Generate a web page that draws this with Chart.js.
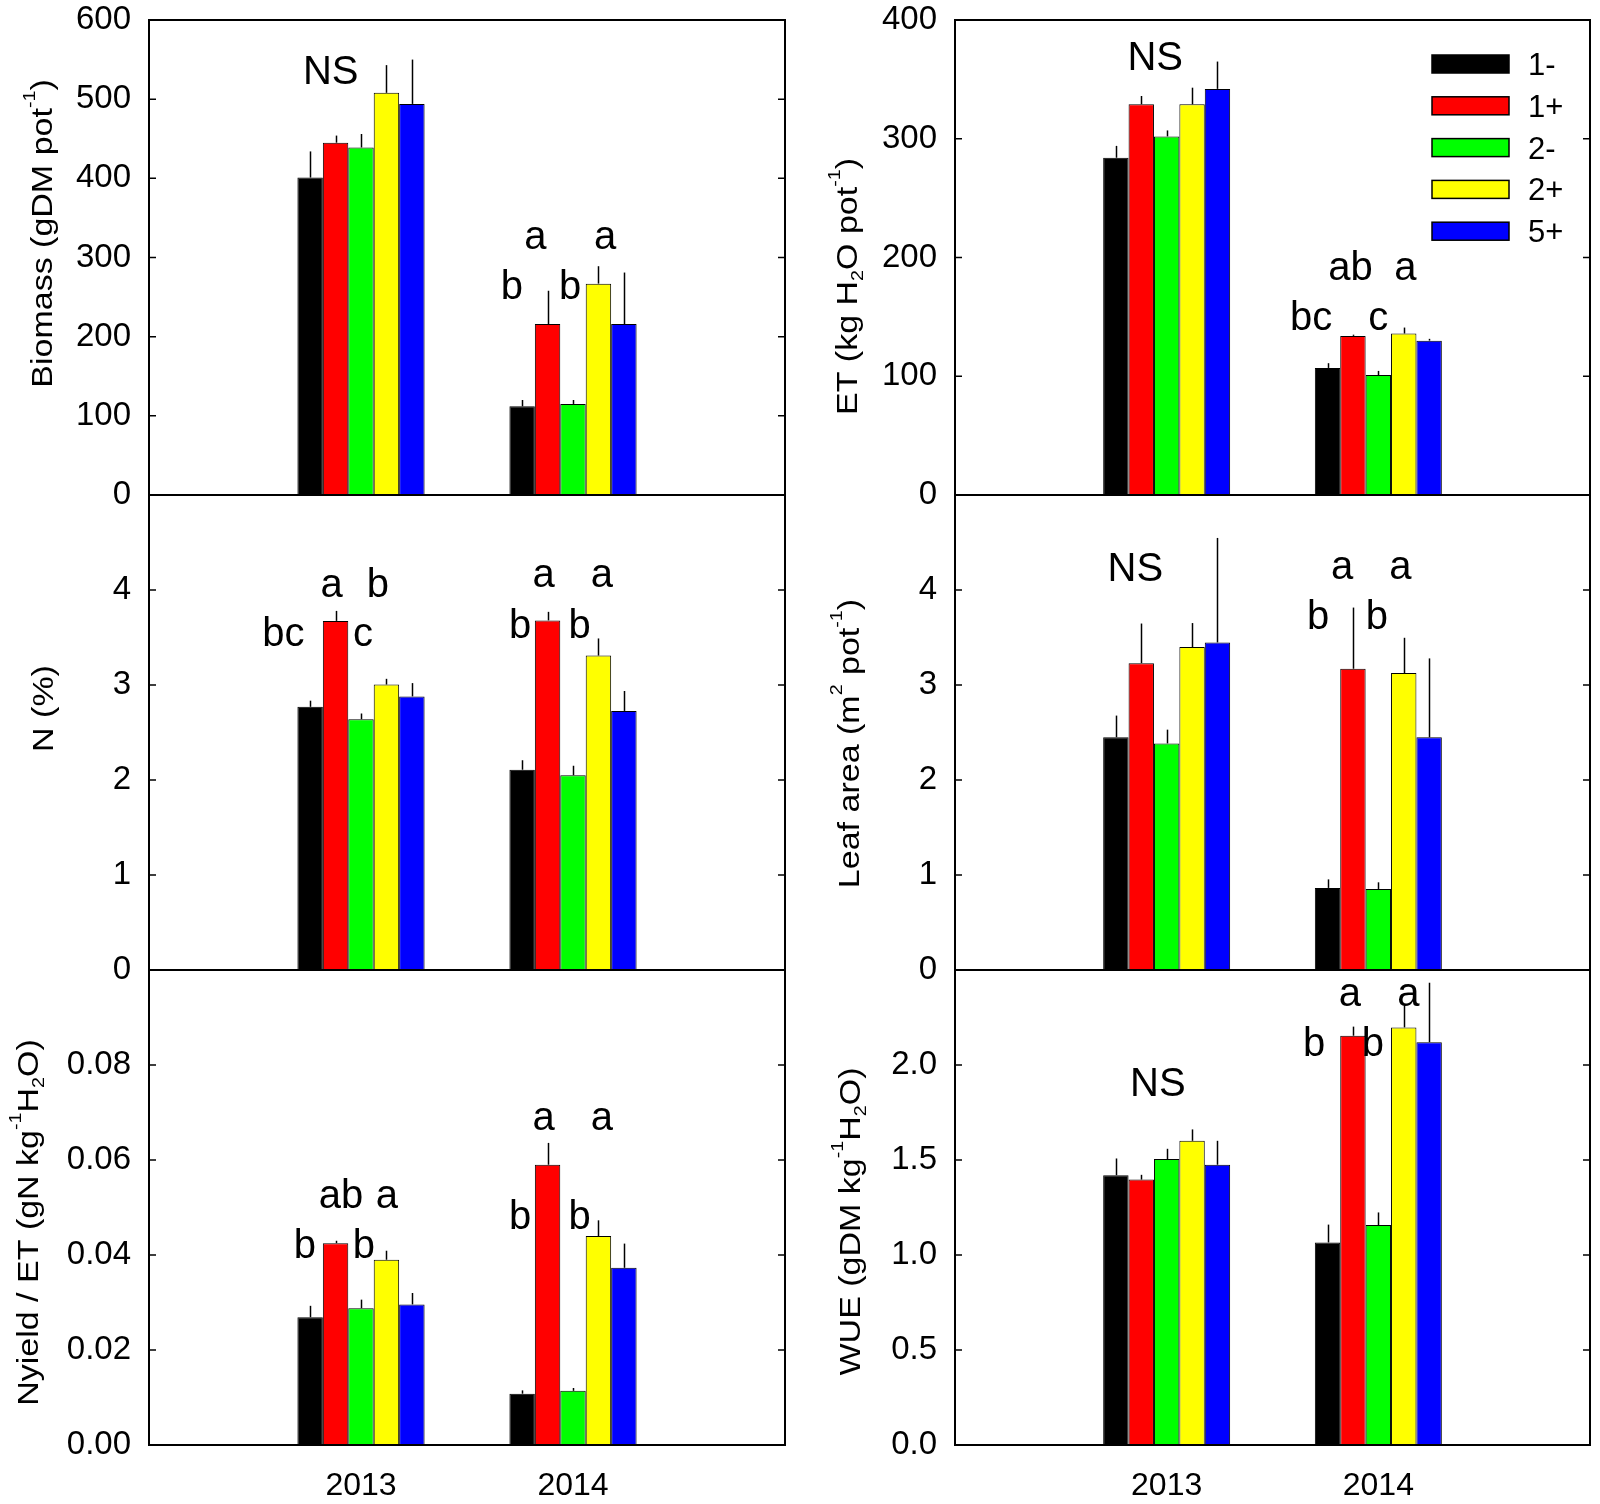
<!DOCTYPE html>
<html>
<head>
<meta charset="utf-8">
<script src="https://cdn.jsdelivr.net/npm/chart.js@4.4.1/dist/chart.umd.min.js"></script>
<style>
  html, body { margin: 0; padding: 0; background: #ffffff; }
  body { width: 1600px; height: 1504px; position: relative; overflow: hidden; }
  canvas { position: absolute; }
</style>
</head>
<body>
<canvas id="pBiomass" width="787" height="515" style="left:0px;top:0px;width:787px;height:515px"></canvas>
<canvas id="pET" width="792" height="515" style="left:800px;top:0px;width:792px;height:515px"></canvas>
<canvas id="pN" width="787" height="515" style="left:0px;top:475px;width:787px;height:515px"></canvas>
<canvas id="pLA" width="792" height="515" style="left:800px;top:475px;width:792px;height:515px"></canvas>
<canvas id="pNy" width="787" height="554" style="left:0px;top:950px;width:787px;height:554px"></canvas>
<canvas id="pWUE" width="792" height="554" style="left:800px;top:950px;width:792px;height:554px"></canvas>
<script>
// ---------------- data ----------------
const yearLabels = ['', '2013', '2014', ''];
const seriesNames = ['1-', '1+', '2-', '2+', '5+'];
const seriesColors = ['#000000', '#ff0000', '#00ff00', '#ffff00', '#0000ff'];

// Biomass (gDM pot-1)
const biomass2013 = [401, 445, 439, 508, 494];
const biomassErr2013 = [33, 9, 17, 35, 56];
const biomass2014 = [112, 216, 115, 267, 216];
const biomassErr2014 = [8, 42, 5, 22, 65];
const biomassTicks = [0, 100, 200, 300, 400, 500, 600];
const biomassTickLabels = ['0', '100', '200', '300', '400', '500', '600'];
const biomassLetters = [['NS', 0.857, 519], ['a', 1.822, 311], ['a', 2.151, 311], ['b', 1.712, 248], ['b', 1.986, 248]];

// ET (kg H2O pot-1)
const et2013 = [284, 329, 302, 329, 342];
const etErr2013 = [10, 7, 5, 14, 23];
const et2014 = [107, 134, 101, 136, 130];
const etErr2014 = [4, 1, 3.5, 5, 1.5];
const etTicks = [0, 100, 200, 300, 400];
const etTickLabels = ['0', '100', '200', '300', '400'];
const etLetters = [['NS', 0.946, 358], ['ab', 1.868, 181], ['a', 2.128, 181], ['bc', 1.683, 139], ['c', 2.0, 139]];

// N (%)
const n2013 = [2.77, 3.675, 2.64, 3.005, 2.88];
const nErr2013 = [0.065, 0.105, 0.06, 0.06, 0.14];
const n2014 = [2.108, 3.68, 2.05, 3.31, 2.727];
const nErr2014 = [0.1, 0.09, 0.1, 0.18, 0.21];
const nTicks = [0, 1, 2, 3, 4, 5];
const nTickLabels = ['0', '1', '2', '3', '4', ''];
const nLetters = [['a', 0.862, 3.93], ['b', 1.080, 3.93], ['bc', 0.634, 3.41], ['c', 1.009, 3.41],
                  ['a', 1.862, 4.035], ['a', 2.136, 4.035], ['b', 1.751, 3.50], ['b', 2.031, 3.50]];

// Leaf area (m2 pot-1)
const la2013 = [2.45, 3.23, 2.385, 3.40, 3.448];
const laErr2013 = [0.228, 0.417, 0.145, 0.252, 1.10];
const la2014 = [0.864, 3.171, 0.853, 3.126, 2.45];
const laErr2014 = [0.09, 0.644, 0.07, 0.371, 0.83];
const laTicks = [0, 1, 2, 3, 4, 5];
const laTickLabels = ['0', '1', '2', '3', '4', ''];
const laLetters = [['NS', 0.852, 4.10], ['a', 1.829, 4.115], ['a', 2.104, 4.115], ['b', 1.716, 3.59], ['b', 1.993, 3.59]];

// Nyield / ET (gN kg-1 H2O)
const ny2013 = [0.0269, 0.0425, 0.0288, 0.0390, 0.0296];
const nyErr2013 = [0.0024, 0.0005, 0.0018, 0.0019, 0.0024];
const ny2014 = [0.0108, 0.0590, 0.0114, 0.0440, 0.0373];
const nyErr2014 = [0.0007, 0.0046, 0.0006, 0.0033, 0.0051];
const nyTicks = [0, 0.02, 0.04, 0.06, 0.08, 0.10];
const nyTickLabels = ['0.00', '0.02', '0.04', '0.06', '0.08', ''];
const nyLetters = [['ab', 0.906, 0.0498], ['a', 1.122, 0.0498], ['b', 0.735, 0.0393], ['b', 1.014, 0.0393],
                   ['a', 1.862, 0.0663], ['a', 2.136, 0.0663], ['b', 1.751, 0.0454], ['b', 2.031, 0.0454]];

// WUE (gDM kg-1 H2O)
const wue2013 = [1.42, 1.397, 1.505, 1.601, 1.475];
const wueErr2013 = [0.088, 0.025, 0.054, 0.06, 0.126];
const wue2014 = [1.066, 2.154, 1.158, 2.198, 2.12];
const wueErr2014 = [0.094, 0.048, 0.066, 0.12, 0.313];
const wueTicks = [0, 0.5, 1.0, 1.5, 2.0, 2.5];
const wueTickLabels = ['0.0', '0.5', '1.0', '1.5', '2.0', ''];
const wueLetters = [['NS', 0.958, 1.838], ['a', 1.865, 2.309], ['a', 2.142, 2.309], ['b', 1.697, 2.045], ['b', 1.974, 2.045]];

// axis titles: [text, 0 normal | 1 superscript | -1 subscript]
const biomassTitle = [['Biomass (gDM pot', 0], ['-1', 1], [')', 0]];
const etTitle = [['ET (kg H', 0], ['2', -1], ['O pot', 0], ['-1', 1], [')', 0]];
const nTitle = [['N (%)', 0]];
const laTitle = [['Leaf area (m', 0], ['2', 1], [' pot', 0], ['-1', 1], [')', 0]];
const nyTitle = [['Nyield / ET (gN kg', 0], ['-1', 1], ['H', 0], ['2', -1], ['O)', 0]];
const wueTitle = [['WUE (gDM kg', 0], ['-1', 1], ['H', 0], ['2', -1], ['O)', 0]];

// ---------------- drawing ----------------
const FONT = '"Liberation Sans", Arial, Helvetica, sans-serif';
Chart.defaults.font.family = FONT;
Chart.defaults.color = '#000';

function drawRich(ctx, parts, cx, cy, size, squash) {
  ctx.save();
  ctx.translate(cx, cy);
  ctx.rotate(-Math.PI / 2);
  ctx.scale(1, squash);
  ctx.fillStyle = '#000';
  ctx.textAlign = 'left';
  ctx.textBaseline = 'alphabetic';
  let total = 0;
  const segs = parts.map(p => {
    const fs = p[1] !== 0 ? size * 0.58 : size;
    ctx.font = fs + 'px ' + FONT;
    const w = ctx.measureText(p[0]).width;
    total += w;
    return { t: p[0], k: p[1], fs: fs, w: w };
  });
  let x = -total / 2;
  segs.forEach(s => {
    ctx.font = s.fs + 'px ' + FONT;
    const dy = s.k === 1 ? -size * 0.6 : (s.k === -1 ? size * 0.22 : 0);
    ctx.fillText(s.t, x, dy);
    x += s.w;
  });
  ctx.restore();
}

const panelPlugin = {
  id: 'panel',
  afterDatasetsDraw(chart) {
    const ctx = chart.ctx;
    const ys = chart.scales.y;
    ctx.save();
    ctx.strokeStyle = '#000';
    ctx.lineWidth = 1.5;
    chart.data.datasets.forEach((ds, i) => {
      const meta = chart.getDatasetMeta(i);
      meta.data.forEach((bar, j) => {
        const v = ds.data[j], e = ds.errors[j];
        if (v == null || e == null) return;
        const x = Math.round(bar.x) + 0.5;
        ctx.beginPath();
        ctx.moveTo(x, ys.getPixelForValue(v));
        ctx.lineTo(x, ys.getPixelForValue(v + e));
        ctx.stroke();
      });
    });
    ctx.restore();
  },
  afterDraw(chart) {
    const o = chart.options.plugins.panel;
    const ctx = chart.ctx;
    const a = chart.chartArea;
    const xs = chart.scales.x, ys = chart.scales.y;
    ctx.save();
    // inward ticks
    ctx.strokeStyle = '#000';
    ctx.lineWidth = 1.5;
    ys.ticks.forEach(t => {
      const py = ys.getPixelForValue(t.value);
      ctx.beginPath();
      ctx.moveTo(a.left, py); ctx.lineTo(a.left + 7, py);
      ctx.moveTo(a.right, py); ctx.lineTo(a.right - 7, py);
      ctx.stroke();
    });
    // frame
    ctx.lineWidth = 2;
    ctx.strokeRect(a.left, a.top, a.right - a.left, a.bottom - a.top);
    // significance letters
    ctx.fillStyle = '#000';
    ctx.font = '40px ' + FONT;
    ctx.textAlign = 'center';
    ctx.textBaseline = 'alphabetic';
    o.letters.forEach(l => {
      ctx.fillText(l[0], xs.getPixelForValue(l[1]), ys.getPixelForValue(l[2]));
    });
    // y title
    drawRich(ctx, o.title, a.left + o.titleDX, (a.top + a.bottom) / 2 + o.titleDY, 34, 0.85);
    // legend
    if (o.legend) {
      chart.data.datasets.forEach((ds, i) => {
        const sx = a.right - 158, sy = a.top + 44 + i * 41.8;
        ctx.fillStyle = ds.backgroundColor;
        ctx.fillRect(sx, sy - 9, 77, 18);
        ctx.strokeStyle = '#000';
        ctx.lineWidth = 1.5;
        ctx.strokeRect(sx, sy - 9, 77, 18);
        ctx.fillStyle = '#000';
        ctx.font = '31px ' + FONT;
        ctx.textAlign = 'left';
        ctx.fillText(ds.label, sx + 96, sy + 11);
      });
    }
    ctx.restore();
  }
};

function makePanel(id, p) {
  const datasets = seriesNames.map((name, k) => ({
    label: name,
    data: [null, p.v13[k], p.v14[k], null],
    errors: [null, p.e13[k], p.e14[k], null],
    backgroundColor: seriesColors[k],
    borderColor: '#000000',
    borderWidth: 1,
    categoryPercentage: 0.6,
    barPercentage: 1.0
  }));
  const yWidth = p.side === 'left' ? 149 : 155;
  new Chart(document.getElementById(id), {
    type: 'bar',
    data: { labels: yearLabels, datasets: datasets },
    options: {
      responsive: false,
      animation: false,
      events: [],
      layout: { padding: 0 },
      plugins: {
        legend: { display: false },
        tooltip: { enabled: false },
        panel: { letters: p.letters, title: p.title, titleDX: p.titleDX, titleDY: p.titleDY, legend: !!p.legend }
      },
      scales: {
        x: {
          type: 'category',
          offset: false,
          display: p.showX,
          grid: { display: false, drawTicks: false },
          border: { display: false },
          ticks: { autoSkip: false, maxRotation: 0, minRotation: 0, padding: 22, color: '#000', font: { size: 32 } },
          afterFit: s => {
            s.height = p.showX ? 59 : 0;
            s.paddingLeft = 0;
            s.paddingRight = 2;
          }
        },
        y: {
          min: p.ticks[0],
          max: p.ticks[p.ticks.length - 1],
          grid: { display: false, drawTicks: false },
          border: { display: false },
          afterBuildTicks: s => { s.ticks = p.ticks.map(v => ({ value: v })); },
          ticks: {
            autoSkip: false,
            padding: 18,
            color: '#000',
            font: { size: 33 },
            callback: (v, i) => p.tickLabels[i]
          },
          afterFit: s => {
            s.width = yWidth;
            s.paddingTop = 20;
            s.paddingBottom = 20;
            s.paddingLeft = 0;
            s.paddingRight = 0;
          }
        }
      }
    },
    plugins: [panelPlugin]
  });
}

makePanel('pBiomass', { v13: biomass2013, e13: biomassErr2013, v14: biomass2014, e14: biomassErr2014,
  ticks: biomassTicks, tickLabels: biomassTickLabels, letters: biomassLetters, title: biomassTitle,
  titleDX: -97, titleDY: -24, side: 'left', showX: false });
makePanel('pET', { v13: et2013, e13: etErr2013, v14: et2014, e14: etErr2014,
  ticks: etTicks, tickLabels: etTickLabels, letters: etLetters, title: etTitle,
  titleDX: -98, titleDY: 29, side: 'right', showX: false, legend: true });
makePanel('pN', { v13: n2013, e13: nErr2013, v14: n2014, e14: nErr2014,
  ticks: nTicks, tickLabels: nTickLabels, letters: nLetters, title: nTitle,
  titleDX: -96, titleDY: -24, side: 'left', showX: false });
makePanel('pLA', { v13: la2013, e13: laErr2013, v14: la2014, e14: laErr2014,
  ticks: laTicks, tickLabels: laTickLabels, letters: laLetters, title: laTitle,
  titleDX: -96, titleDY: 11, side: 'right', showX: false });
makePanel('pNy', { v13: ny2013, e13: nyErr2013, v14: ny2014, e14: nyErr2014,
  ticks: nyTicks, tickLabels: nyTickLabels, letters: nyLetters, title: nyTitle,
  titleDX: -111, titleDY: 15, side: 'left', showX: true });
makePanel('pWUE', { v13: wue2013, e13: wueErr2013, v14: wue2014, e14: wueErr2014,
  ticks: wueTicks, tickLabels: wueTickLabels, letters: wueLetters, title: wueTitle,
  titleDX: -95, titleDY: 14, side: 'right', showX: true });
</script>
</body>
</html>
